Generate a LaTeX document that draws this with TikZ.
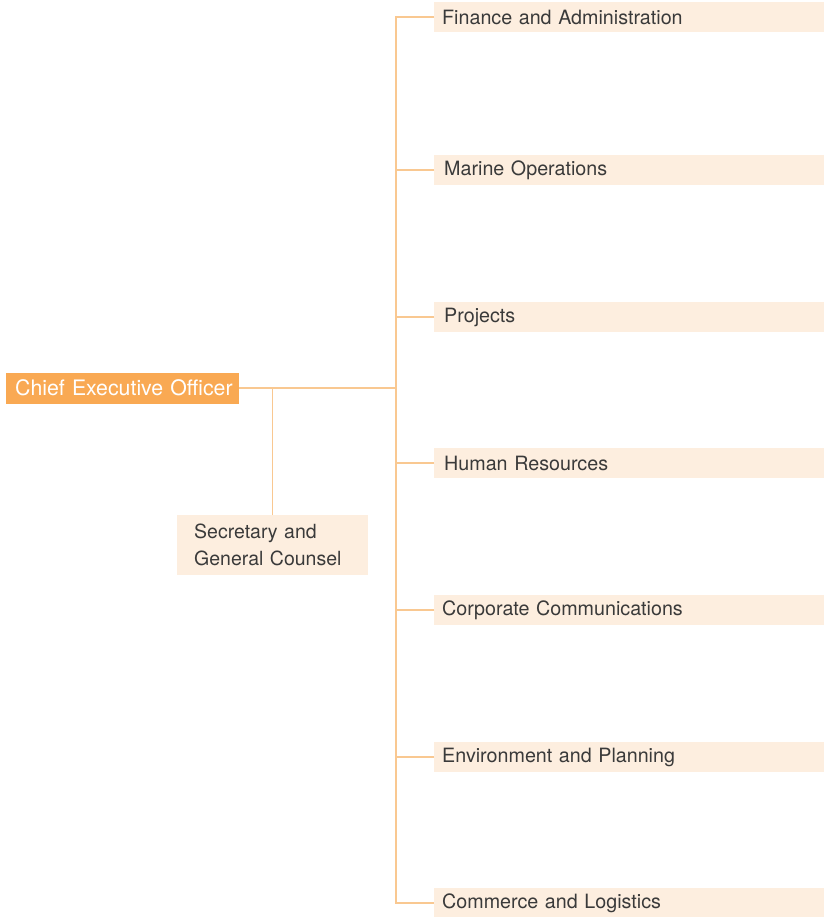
\documentclass[tikz,border=0pt]{standalone}
\usepackage{fontspec}
\setmainfont{TeX Gyre Heros}
\definecolor{ceoorange}{HTML}{F9A953}
\definecolor{unitfill}{HTML}{FDEEDF}
\definecolor{linkline}{HTML}{F9C891}
\definecolor{unittext}{HTML}{3A3A3A}

\begin{document}
\begin{tikzpicture}[x=1pt, y=-1pt]

		\tikzstyle{unit} = [rectangle, fill=unitfill, text=unittext, anchor=west, inner xsep=8pt, inner ysep=0pt, minimum height=30pt, text width=374pt, align=left, font=\fontsize{19.7}{22}\selectfont]
		\tikzstyle{ceo}  = [rectangle, fill=ceoorange, text=white, anchor=west, inner xsep=0pt, inner ysep=0pt, minimum height=31pt, text width=233pt, align=left, font=\fontsize{21.3}{24}\selectfont]
		\tikzstyle{sec}  = [rectangle, fill=unitfill, text=unittext, anchor=north west, inner xsep=17pt, inner ysep=0pt, minimum height=60pt, text width=157pt, align=left, font=\fontsize{19.5}{27}\selectfont]
		\tikzstyle{link} = [draw=linkline, line width=1.4pt]

		\useasboundingbox (0,0) rectangle (825,917);

		%%Chief executive and secretary
		\node [ceo](ceo) at (6, 388) {\hspace*{9pt}Chief Executive Officer};
		\node [sec](sec) at (177, 515) {Secretary and\\General Counsel};

		%%Divisions
		\node [unit](fin) at (434, 17) {Finance and Administration};
		\node [unit](mar) at (434, 170) {\hspace{2pt}Marine Operations};
		\node [unit](pro) at (434, 317) {\hspace{2pt}Projects};
		\node [unit](hum) at (434, 463) {\hspace{2pt}Human Resources};
		\node [unit](cor) at (434, 610) {Corporate Communications};
		\node [unit](env) at (434, 757) {Environment and Planning};
		\node [unit](com) at (434, 903) {Commerce and Logistics};

		\coordinate (hub) at (396, 388);

		\draw [link] (fin.west) -| (hub) |- (com.west);
		\draw [link] (mar.west) -- (hub |- mar.west);
		\draw [link] (pro.west) -- (hub |- pro.west);
		\draw [link] (hum.west) -- (hub |- hum.west);
		\draw [link] (cor.west) -- (hub |- cor.west);
		\draw [link] (env.west) -- (hub |- env.west);
		\draw [link] (ceo.east) -- (hub);
		\draw [link] (sec.north) -- (sec.north |- ceo.east);
	\end{tikzpicture}
\end{document}
